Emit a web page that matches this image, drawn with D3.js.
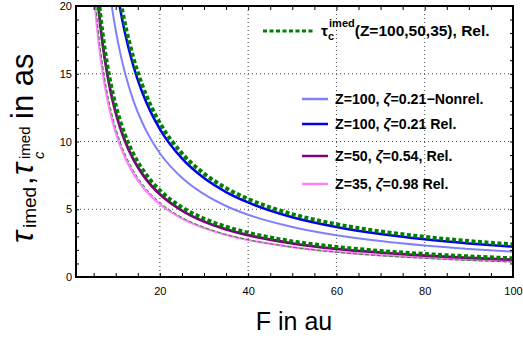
<!DOCTYPE html>
<html>
<head>
<meta charset="utf-8">
<script src="https://cdn.jsdelivr.net/npm/d3@7"></script>
<style>
  body { margin: 0; background: #fff; }
  text { font-family: "Liberation Sans", Arial, sans-serif; }
</style>
</head>
<body>
<div id="chart"></div>
<script>
// field strength F (au)
var F = [4, 5, 6, 7, 8, 9, 10, 11, 12, 14, 16, 18, 20, 25, 30, 35, 40, 50, 60, 70, 80, 90, 100];
// tau values (as)
var tauZ100Nonrel = [45.43, 36.36, 30.31, 25.98, 22.74, 20.22, 18.21, 16.56, 15.18, 13.02, 11.40, 10.14, 9.13, 7.32, 6.11, 5.24, 4.59, 3.69, 3.08, 2.65, 2.32, 2.07, 1.87];
var tauZ100Rel = [54.32, 43.47, 36.24, 31.07, 27.20, 24.18, 21.77, 19.80, 18.15, 15.57, 13.63, 12.13, 10.92, 8.75, 7.30, 6.27, 5.50, 4.41, 3.69, 3.17, 2.78, 2.48, 2.24];
var tauZ50Rel = [30.20, 24.18, 20.16, 17.29, 15.14, 13.46, 12.13, 11.03, 10.12, 8.68, 7.61, 6.77, 6.10, 4.90, 4.09, 3.52, 3.09, 2.49, 2.08, 1.80, 1.58, 1.41, 1.28];
var tauZ35Rel = [26.47, 21.20, 17.68, 15.17, 13.28, 11.82, 10.65, 9.69, 8.89, 7.63, 6.69, 5.96, 5.37, 4.32, 3.61, 3.11, 2.73, 2.21, 1.85, 1.60, 1.41, 1.27, 1.15];
var tauC100 = [56.16, 44.96, 37.49, 32.16, 28.16, 25.05, 22.56, 20.52, 18.83, 16.16, 14.16, 12.60, 11.36, 9.12, 7.63, 6.56, 5.76, 4.64, 3.89, 3.36, 2.96, 2.65, 2.40];
var tauC50 = [31.43, 25.17, 21.00, 18.02, 15.78, 14.04, 12.65, 11.51, 10.56, 9.07, 7.96, 7.09, 6.39, 5.14, 4.30, 3.71, 3.26, 2.63, 2.22, 1.92, 1.70, 1.52, 1.38];
var tauC35 = [27.50, 22.00, 18.33, 15.71, 13.75, 12.22, 11.00, 10.00, 9.17, 7.86, 6.88, 6.11, 5.50, 4.40, 3.67, 3.14, 2.75, 2.20, 1.83, 1.57, 1.38, 1.22, 1.10];

var xTicks = [20, 40, 60, 80, 100];
var xMinor = d3.range(5, 100, 5);
var yTicks = [0, 5, 10, 15, 20];
var yMinor = d3.range(0, 21, 1);
var xGrid = [20, 40, 60, 80];
var yGrid = [5, 10, 15];

var width = 523, height = 340;
var margin = {top: 6, right: 10, bottom: 63, left: 76};
var w = width - margin.left - margin.right;
var h = height - margin.top - margin.bottom;

var svg = d3.select("#chart").append("svg")
    .attr("width", width)
    .attr("height", height);

var g = svg.append("g")
    .attr("transform", "translate(" + margin.left + "," + margin.top + ")");

var x = d3.scaleLinear().domain([1, 100]).range([0, w]);
var y = d3.scaleLinear().domain([0, 20]).range([h, 0]);

svg.append("defs").append("clipPath").attr("id", "clip")
    .append("rect").attr("width", w).attr("height", h);

// grid
g.selectAll("line.gx").data(xGrid).enter().append("line")
    .attr("x1", function(d){ return x(d); }).attr("x2", function(d){ return x(d); })
    .attr("y1", 0).attr("y2", h)
    .attr("stroke", "#444").attr("stroke-dasharray", "1,3");
g.selectAll("line.gy").data(yGrid).enter().append("line")
    .attr("y1", function(d){ return y(d); }).attr("y2", function(d){ return y(d); })
    .attr("x1", 0).attr("x2", w)
    .attr("stroke", "#444").attr("stroke-dasharray", "1,3");

// curves
var series = [
    {v: tauZ100Nonrel, color: "#8080ff", width: 2, dash: null},
    {v: tauZ100Rel, color: "#0000ee", width: 2.5, dash: null},
    {v: tauZ35Rel, color: "#ff80ff", width: 2.2, dash: null},
    {v: tauZ50Rel, color: "#800080", width: 2.8, dash: null},
    {v: tauC35, color: "#2e8b2e", width: 1, dash: "4,2"},
    {v: tauC50, color: "#008000", width: 4, dash: "4,2.5"},
    {v: tauC100, color: "#008000", width: 4, dash: "4,2.5"}
];

var line = d3.line()
    .x(function(d, i){ return x(F[i]); })
    .y(function(d){ return y(d); })
    .curve(d3.curveMonotoneX);

var curves = g.append("g").attr("clip-path", "url(#clip)");
series.forEach(function(s){
    curves.append("path")
        .attr("d", line(s.v))
        .attr("fill", "none")
        .attr("stroke", s.color)
        .attr("stroke-width", s.width)
        .attr("stroke-dasharray", s.dash);
});

// axes
function styleAxis(sel){
    sel.select(".domain").remove();
    sel.selectAll("text").style("font-size", "11px").style("font-family", "Liberation Sans, Arial, sans-serif");
    sel.selectAll("line").attr("stroke", "#000");
}
g.append("g").attr("transform", "translate(0," + h + ")")
    .call(d3.axisBottom(x).tickValues(xMinor).tickSize(-4).tickFormat(""))
    .call(styleAxis);
g.append("g").attr("transform", "translate(0," + h + ")")
    .call(d3.axisBottom(x).tickValues(xTicks).tickSize(0).tickPadding(10).tickFormat(d3.format("d")))
    .call(styleAxis);
g.append("g")
    .call(d3.axisTop(x).tickValues(xMinor).tickSize(-4).tickFormat(""))
    .call(styleAxis);
g.append("g")
    .call(d3.axisLeft(y).tickValues(yMinor).tickSize(-3).tickFormat(""))
    .call(styleAxis);
g.append("g")
    .call(d3.axisLeft(y).tickValues(yTicks).tickSize(0).tickPadding(4).tickFormat(d3.format("d")))
    .call(styleAxis);
g.append("g").attr("transform", "translate(" + w + ",0)")
    .call(d3.axisRight(y).tickValues(yMinor).tickSize(-3).tickFormat(""))
    .call(styleAxis);

g.append("rect").attr("width", w).attr("height", h)
    .attr("fill", "none").attr("stroke", "#000").attr("stroke-width", 2);

// axis titles
svg.append("text")
    .attr("x", 294).attr("y", 330)
    .attr("text-anchor", "middle")
    .style("font-size", "25px")
    .text("F in au");

var yTitle = [
    {t: "τ", size: 32, italic: true, pos: 243, base: 33},
    {t: "imed", size: 19, italic: false, pos: 228, base: 36},
    {t: ",", size: 31, italic: false, pos: 185, base: 33},
    {t: "τ", size: 32, italic: true, pos: 175, base: 33},
    {t: "c", size: 15, italic: true, pos: 159, base: 44},
    {t: "imed", size: 15, italic: false, pos: 159, base: 30},
    {t: "in as", size: 31, italic: false, pos: 119, base: 33}
];
yTitle.forEach(function(d){
    svg.append("text")
        .attr("transform", "translate(" + d.base + "," + d.pos + ") rotate(-90)")
        .style("font-size", d.size + "px")
        .style("font-style", d.italic ? "italic" : "normal")
        .text(d.t);
});

// legend
var leg = svg.append("g").style("font-weight", "bold");
leg.append("line").attr("x1", 263).attr("x2", 313).attr("y1", 31).attr("y2", 31)
    .attr("stroke", "#008000").attr("stroke-width", 3).attr("stroke-dasharray", "4,2.5");
var t0 = leg.append("text").attr("x", 321).attr("y", 36).style("font-size", "15.5px");
t0.append("tspan").text("τ");
t0.append("tspan").style("font-size", "11px").attr("dy", 4).text("c");
t0.append("tspan").style("font-size", "11px").attr("dx", -5).attr("dy", -13).text("imed");
t0.append("tspan").attr("dy", 9).text("(Z=100,50,35), Rel.");

var legItems = [
    {label: ["Z=100, ", "ζ", "=0.21\u2212Nonrel."], color: "#8080ff", y: 99},
    {label: ["Z=100, ", "ζ", "=0.21 Rel."], color: "#0000ee", y: 124},
    {label: ["Z=50, ", "ζ", "=0.54, Rel."], color: "#800080", y: 156},
    {label: ["Z=35, ", "ζ", "=0.98 Rel."], color: "#ff80ff", y: 184}
];
legItems.forEach(function(d){
    leg.append("line").attr("x1", 302).attr("x2", 328).attr("y1", d.y).attr("y2", d.y)
        .attr("stroke", d.color).attr("stroke-width", 2.5);
    var t = leg.append("text").attr("x", 335).attr("y", d.y + 5).style("font-size", "14.2px");
    t.append("tspan").text(d.label[0]);
    t.append("tspan").style("font-style", "italic").text(d.label[1]);
    t.append("tspan").text(d.label[2]);
});
</script>
</body>
</html>
